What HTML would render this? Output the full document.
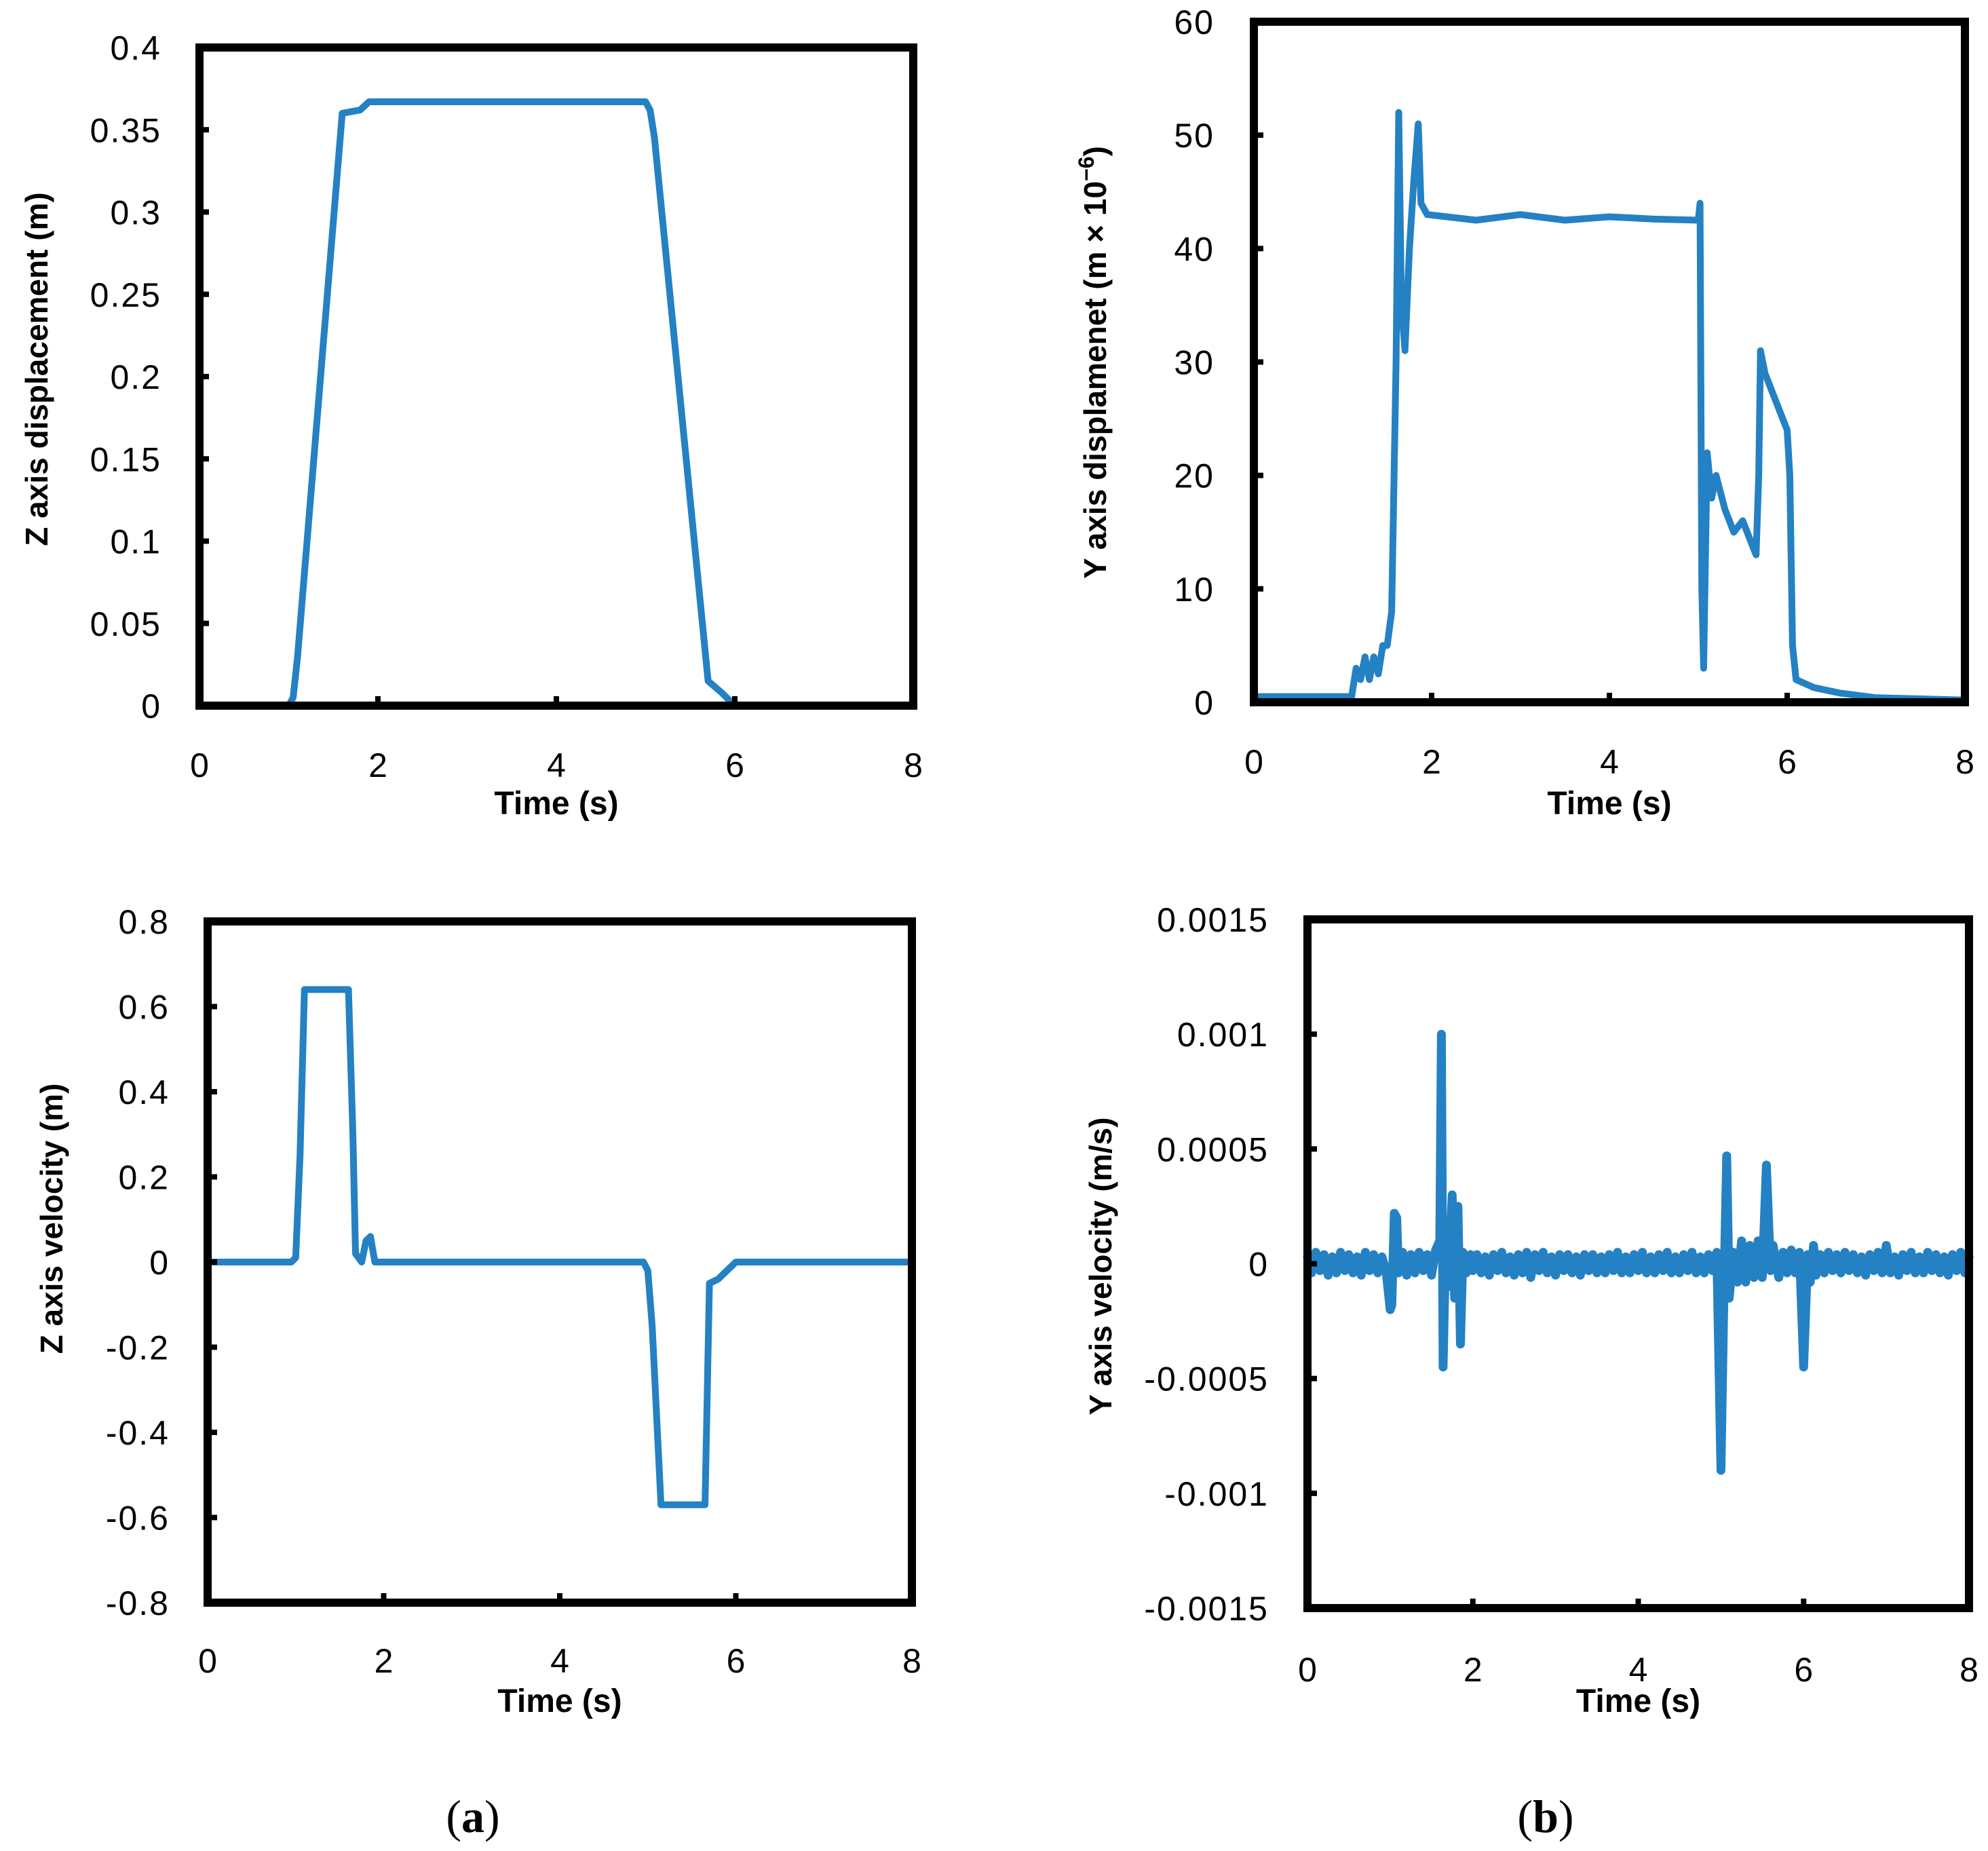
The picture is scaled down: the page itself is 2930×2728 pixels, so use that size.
<!DOCTYPE html>
<html><head><meta charset="utf-8"><style>
html,body{margin:0;padding:0;background:#fff;}
svg{display:block;}
text{font-family:"Liberation Sans",sans-serif;fill:#000;}
</style></head><body>
<svg id="root" width="2930" height="2728" viewBox="0 0 2930 2728" xmlns="http://www.w3.org/2000/svg">
<text x="697" y="2700" text-anchor="middle" style="font-family:'Liberation Serif',serif;font-size:68px">(<tspan font-weight="bold">a</tspan>)</text>
<text x="2278" y="2700" text-anchor="middle" style="font-family:'Liberation Serif',serif;font-size:68px">(<tspan font-weight="bold">b</tspan>)</text>
</svg>
<script>
// ---- data ----
const zDispT = [0,1.0,1.05,1.1,1.6,1.7,1.8,1.9,5.0,5.05,5.1,5.7,5.85,6.0,8];
const zDispV = [0,0,0.005,0.03,0.36,0.361,0.362,0.367,0.367,0.362,0.345,0.015,0.008,0,0];
const zDispTicks = ["0","0.05","0.1","0.15","0.2","0.25","0.3","0.35","0.4"];

const zVelT = [0,0.95,1.0,1.05,1.1,1.6,1.65,1.68,1.75,1.8,1.85,1.9,4.95,5.0,5.05,5.15,5.65,5.7,5.8,5.9,6.0,8];
const zVelV = [0,0,0.01,0.25,0.64,0.64,0.3,0.02,0,0.05,0.06,0,0,-0.02,-0.15,-0.57,-0.57,-0.05,-0.04,-0.02,0,0];
const zVelTicks = ["-0.8","-0.6","-0.4","-0.2","0","0.2","0.4","0.6","0.8"];

const yDispT = [0,1.1,1.15,1.2,1.25,1.3,1.35,1.4,1.45,1.5,1.55,1.6,1.63,1.66,1.7,1.75,1.8,1.85,1.88,1.95,2.5,3,3.5,4,4.5,5.0,5.02,5.04,5.06,5.1,5.15,5.2,5.3,5.4,5.5,5.6,5.65,5.68,5.7,5.75,5.8,5.9,6.0,6.03,6.06,6.1,6.3,6.6,7.0,8];
const yDispV = [0.5,0.5,3,2,4,2,4,2.5,5,5,8,30,52,35,31,40,46,51,44,43,42.5,43,42.5,42.8,42.6,42.5,44,10,3,22,18,20,17,15,16,14,13,20,31,29,28,26,24,20,5,2,1.3,0.8,0.4,0.2];
const yDispTicks = ["0","10","20","30","40","50","60"];

const yVelT = [0,0.05,0.1,0.15,0.2,0.25,0.3,0.35,0.4,0.45,0.5,0.55,0.6,0.65,0.7,0.75,0.8,0.85,0.9,0.95,1.0,1.02,1.05,1.08,1.1,1.15,1.2,1.25,1.3,1.35,1.4,1.45,1.5,1.55,1.6,1.62,1.64,1.67,1.7,1.75,1.78,1.82,1.85,1.88,1.92,1.97,2.0,2.05,2.1,2.15,2.2,2.25,2.3,2.35,2.4,2.45,2.5,2.55,2.6,2.65,2.7,2.75,2.8,2.85,2.9,2.95,3.0,3.05,3.1,3.15,3.2,3.25,3.3,3.35,3.4,3.45,3.5,3.55,3.6,3.65,3.7,3.75,3.8,3.85,3.9,3.95,4.0,4.05,4.1,4.15,4.2,4.25,4.3,4.35,4.4,4.45,4.5,4.55,4.6,4.65,4.7,4.75,4.8,4.85,4.9,4.95,5.0,5.04,5.07,5.1,5.15,5.2,5.25,5.3,5.35,5.4,5.45,5.5,5.55,5.6,5.63,5.7,5.75,5.8,5.85,5.9,5.95,6.0,6.05,6.08,6.12,6.15,6.2,6.25,6.3,6.35,6.4,6.45,6.5,6.55,6.6,6.65,6.7,6.75,6.8,6.85,6.9,6.95,7.0,7.05,7.1,7.15,7.2,7.25,7.3,7.35,7.4,7.45,7.5,7.55,7.6,7.65,7.7,7.75,7.8,7.85,7.9,7.95,8.0];
const yVelV = [3,-4,5,-3,4,-5,3,-4,5,-3,4,-4,3,-5,5,-3,4,-4,3,-3,-20,-18,22,20,-4,5,-5,4,-4,5,-3,4,-5,6,10,100,-45,5,-10,30,-15,25,-35,5,-4,4,-3,4,-4,3,-5,4,-3,5,-4,3,-5,4,-4,5,-6,4,-3,5,-4,3,-5,4,-3,4,-4,3,-5,4,-3,4,-4,3,-4,4,-3,5,-4,3,-4,4,-3,5,-4,3,-4,4,-3,5,-4,3,-4,4,-3,5,-4,3,-4,4,-3,5,-90,-5,47,-15,5,-8,10,-8,8,-6,10,-6,43,-3,8,-6,5,-4,6,-4,5,-45,4,-8,8,-5,4,-4,5,-3,4,-4,5,-3,4,-4,3,-5,4,-3,5,-4,8,-4,3,-5,4,-3,5,-4,3,-4,5,-3,4,-4,3,-5,4,-3,5,-4,3];
const yVelScale = 1e-5;
const yVelTicks = ["-0.0015","-0.001","-0.0005","0","0.0005","0.001","0.0015"];
const xTicks = ["0","2","4","6","8"];

const NS = "http://www.w3.org/2000/svg";
const root = document.getElementById('root');
function mk(tag, attrs, parent){const e=document.createElementNS(NS,tag);for(const k in attrs)e.setAttribute(k,attrs[k]);(parent||root).appendChild(e);return e;}

function chart(o){
  const g = mk('g',{});
  
  
  const X = t => o.x0 + (t-0)/8*(o.x1-o.x0);
  const Y = v => o.y1 - (v-o.ymin)/(o.ymax-o.ymin)*(o.y1-o.y0);
  let d='';
  for(let i=0;i<o.t.length;i++){d+=(i?'L':'M')+X(o.t[i]).toFixed(1)+' '+Y(o.v[i]*(o.scale||1)).toFixed(1);}
  const p = mk('path',{d:d,fill:'none',stroke:'#2481C3','stroke-width':o.sw||10,'stroke-linejoin':'round','stroke-linecap':'round'},g);
  
  
  const f = mk('rect',{x:o.x0,y:o.y0,width:o.x1-o.x0,height:o.y1-o.y0,fill:'none',stroke:'#000','stroke-width':12},g);
  
  
  const n=o.yticks.length;
  for(let i=0;i<n;i++){
    const v=o.ymin+i*(o.ymax-o.ymin)/(n-1);
    const yy=Y(v);
    if(i>0&&i<n-1) mk('line',{x1:o.x0,x2:o.x0+14,y1:yy,y2:yy,stroke:'#000','stroke-width':8},g);
    const t=mk('text',{x:o.ylx,y:yy+18,'text-anchor':'end','font-size':50,'letter-spacing':2},g);
    t.textContent=o.yticks[i];
    
    
  }
  for(let i=0;i<xTicks.length;i++){
    const xx=X(+xTicks[i]);
    if(i>0&&i<xTicks.length-1) mk('line',{x1:xx,x2:xx,y1:o.y1,y2:o.y1-14,stroke:'#000','stroke-width':8},g);
    const t=mk('text',{x:xx,y:o.xly,'text-anchor':'middle','font-size':50},g);
    t.textContent=xTicks[i];
    
    
  }
  const xt=mk('text',{x:(o.x0+o.x1)/2,y:o.xty,'text-anchor':'middle','font-size':48,'font-weight':'bold'},g);
  xt.textContent='Time (s)';
  
  
  const yt=mk('text',{x:0,y:0,'text-anchor':'middle','font-size':46,'font-weight':'bold',transform:`translate(${o.ytx},${o.yty}) rotate(-90)`},g);
  yt.innerHTML=o.ytitle;
  
  
}

chart({name:'z-displacement-chart',x0:294,x1:1346,y0:70,y1:1040,ymin:0,ymax:0.4,t:zDispT,v:zDispV,yticks:zDispTicks,ylx:238,xly:1145,xty:1200,ytx:70,yty:544,ytitle:'Z axis displacement (m)'});
chart({name:'y-displacement-chart',x0:1848,x1:2896,y0:32,y1:1035,ymin:0,ymax:60,t:yDispT,v:yDispV,yticks:yDispTicks,ylx:1790,xly:1140,xty:1200,ytx:1630,yty:534,ytitle:'Y axis displamenet (m × 10<tspan dy="-18" font-size="32">−6</tspan><tspan dy="18">)</tspan>'});
chart({name:'z-velocity-chart',x0:306,x1:1344,y0:1358,y1:2362,ymin:-0.8,ymax:0.8,t:zVelT,v:zVelV,yticks:zVelTicks,ylx:250,xly:2465,xty:2523,ytx:92,yty:1796,ytitle:'Z axis velocity (m)'});
chart({name:'y-velocity-chart',x0:1927,x1:2902,y0:1355,y1:2370,ymin:-0.0015,ymax:0.0015,t:yVelT,v:yVelV,scale:yVelScale,sw:13,yticks:yVelTicks,ylx:1870,xly:2478,xty:2523,ytx:1638,yty:1866,ytitle:'Y axis velocity (m/s)'});
</script>
</body></html>
